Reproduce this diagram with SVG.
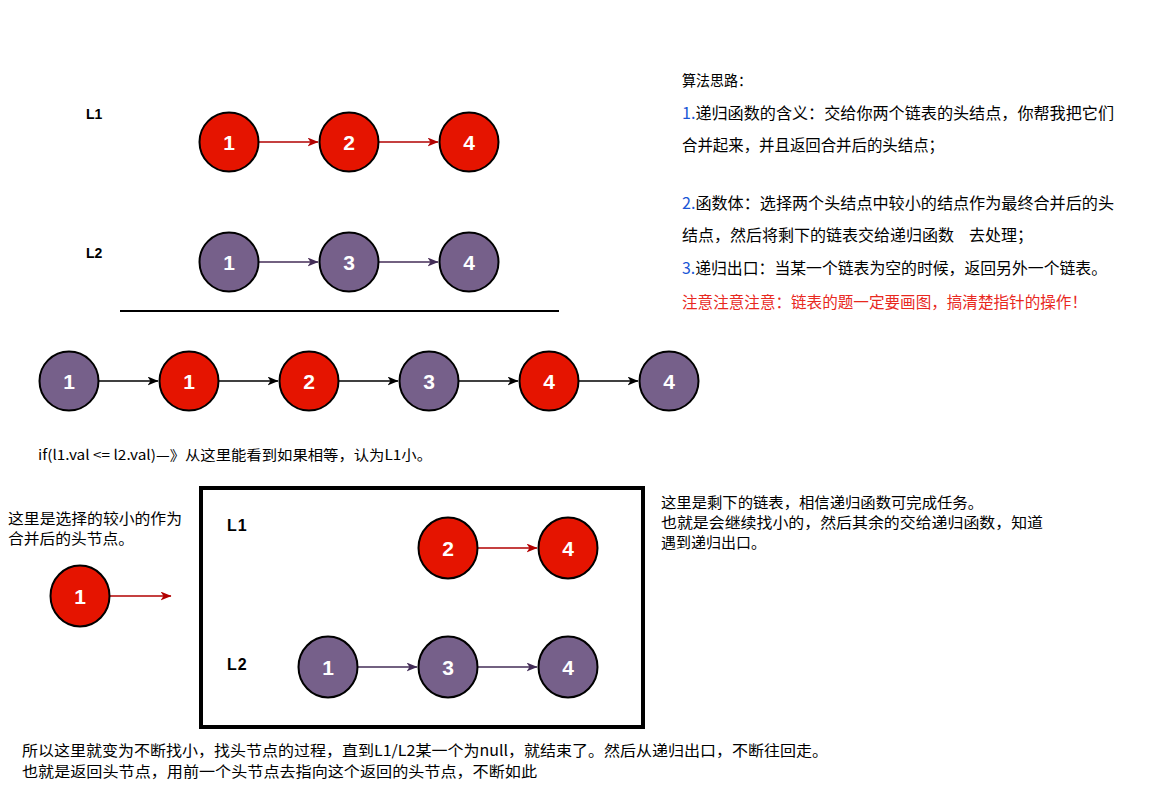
<svg xmlns="http://www.w3.org/2000/svg" width="1162" height="807" viewBox="0 0 1162 807">
<style>
.r{fill:#e51400;stroke:#000;stroke-width:2}
.p{fill:#76608a;stroke:#000;stroke-width:2}
.n{font-family:"Liberation Sans",Arial,sans-serif;font-weight:bold;font-size:21px;fill:#fff;text-anchor:middle}
.lb{font-family:"Liberation Sans",Arial,sans-serif;font-weight:bold;font-size:14px;fill:#000}
.lb2{font-family:"Liberation Sans",Arial,sans-serif;font-weight:bold;font-size:16px;letter-spacing:1px;fill:#000}
.t{font-family:"Noto Sans CJK SC","Liberation Sans",sans-serif;font-size:15px;fill:#000}
.t16{font-family:"Noto Sans CJK SC","Liberation Sans",sans-serif;font-size:16px;fill:#000}
.t14{font-family:"Noto Sans CJK SC","Liberation Sans",sans-serif;font-size:14px;fill:#000}
.blue{fill:#1a56d6}
.ar{stroke:#b20000;stroke-width:1.6;fill:none}
.ap{stroke:#432d57;stroke-width:1.6;fill:none}
.ab{stroke:#000;stroke-width:1.6;fill:none}
</style>
<defs>
<marker id="mr" viewBox="0 0 11 9" refX="10.5" refY="4.5" markerWidth="11" markerHeight="9" orient="auto" markerUnits="userSpaceOnUse"><path d="M0,0 L11,4.5 L0,9 L3,4.5 z" fill="#b20000"/></marker>
<marker id="mp" viewBox="0 0 11 9" refX="10.5" refY="4.5" markerWidth="11" markerHeight="9" orient="auto" markerUnits="userSpaceOnUse"><path d="M0,0 L11,4.5 L0,9 L3,4.5 z" fill="#432d57"/></marker>
<marker id="mb" viewBox="0 0 11 9" refX="10.5" refY="4.5" markerWidth="11" markerHeight="9" orient="auto" markerUnits="userSpaceOnUse"><path d="M0,0 L11,4.5 L0,9 L3,4.5 z" fill="#000"/></marker>
</defs>
<rect width="1162" height="807" fill="#fff"/>

<g id="connectors">
<line class="ar" x1="259" y1="142" x2="318" y2="142" marker-end="url(#mr)"/>
<line class="ar" x1="379" y1="142" x2="438" y2="142" marker-end="url(#mr)"/>
<line class="ap" x1="259" y1="262" x2="318" y2="262" marker-end="url(#mp)"/>
<line class="ap" x1="379" y1="262" x2="438" y2="262" marker-end="url(#mp)"/>
<line class="ab" x1="99" y1="381" x2="158" y2="381" marker-end="url(#mb)"/>
<line class="ab" x1="219" y1="381" x2="278" y2="381" marker-end="url(#mb)"/>
<line class="ab" x1="339" y1="381" x2="398" y2="381" marker-end="url(#mb)"/>
<line class="ab" x1="459" y1="381" x2="518" y2="381" marker-end="url(#mb)"/>
<line class="ab" x1="579" y1="381" x2="638" y2="381" marker-end="url(#mb)"/>
<line class="ar" x1="110" y1="596" x2="171" y2="596" marker-end="url(#mr)"/>
<line class="ar" x1="478" y1="548" x2="537" y2="548" marker-end="url(#mr)"/>
<line class="ap" x1="358" y1="667" x2="417" y2="667" marker-end="url(#mp)"/>
<line class="ap" x1="478" y1="667" x2="537" y2="667" marker-end="url(#mp)"/>
</g>

<g id="labels-top">
<text class="lb" x="86" y="119">L1</text>
<text class="lb" x="86" y="258">L2</text>
</g>
<line x1="120" y1="311" x2="559" y2="311" stroke="#000" stroke-width="2"/>

<g id="l1-1"><circle class="r" cx="229" cy="142" r="29.5"/><text class="n" x="229" y="149.5">1</text></g>
<g id="l1-2"><circle class="r" cx="349" cy="142" r="29.5"/><text class="n" x="349" y="149.5">2</text></g>
<g id="l1-4"><circle class="r" cx="469" cy="142" r="29.5"/><text class="n" x="469" y="149.5">4</text></g>
<g id="l2-1"><circle class="p" cx="229" cy="262" r="29.5"/><text class="n" x="229" y="269.5">1</text></g>
<g id="l2-3"><circle class="p" cx="349" cy="262" r="29.5"/><text class="n" x="349" y="269.5">3</text></g>
<g id="l2-4"><circle class="p" cx="469" cy="262" r="29.5"/><text class="n" x="469" y="269.5">4</text></g>

<g id="m-1"><ellipse class="p" cx="69" cy="381" rx="29.5" ry="29.5"/><text class="n" x="69" y="388.5">1</text></g>
<g id="m-2"><ellipse class="r" cx="189" cy="381" rx="29.5" ry="29.5"/><text class="n" x="189" y="388.5">1</text></g>
<g id="m-3"><ellipse class="r" cx="309" cy="381" rx="29.5" ry="29.5"/><text class="n" x="309" y="388.5">2</text></g>
<g id="m-4"><ellipse class="p" cx="429" cy="381" rx="29.5" ry="29.5"/><text class="n" x="429" y="388.5">3</text></g>
<g id="m-5"><ellipse class="r" cx="549" cy="381" rx="29.5" ry="29.5"/><text class="n" x="549" y="388.5">4</text></g>
<g id="m-6"><ellipse class="p" cx="669" cy="381" rx="29.5" ry="29.5"/><text class="n" x="669" y="388.5">4</text></g>

<text class="t14" x="38" y="460" textLength="394" lengthAdjust="spacingAndGlyphs">if(l1.val &lt;= l2.val)—》从这里能看到如果相等，认为L1小。</text>

<g id="algo">
<text class="t" x="682" y="86" textLength="70" lengthAdjust="spacingAndGlyphs">算法思路：</text>
<text class="t16" x="682" y="119" textLength="432" lengthAdjust="spacingAndGlyphs"><tspan class="blue">1.</tspan>递归函数的含义：交给你两个链表的头结点，你帮我把它们</text>
<text class="t16" x="682" y="151" textLength="262" lengthAdjust="spacingAndGlyphs">合并起来，并且返回合并后的头结点；</text>
<text class="t16" x="682" y="209" textLength="432" lengthAdjust="spacingAndGlyphs"><tspan class="blue">2.</tspan>函数体：选择两个头结点中较小的结点作为最终合并后的头</text>
<text class="t16" x="682" y="241" textLength="272" lengthAdjust="spacingAndGlyphs">结点，然后将剩下的链表交给递归函数</text>
<text class="t16" x="969" y="241">去处理；</text>
<text class="t16" x="682" y="274" textLength="425" lengthAdjust="spacingAndGlyphs"><tspan class="blue">3.</tspan>递归出口：当某一个链表为空的时候，返回另外一个链表。</text>
<text class="t16" x="682" y="308" style="fill:#e8281e" textLength="405" lengthAdjust="spacingAndGlyphs">注意注意注意：链表的题一定要画图，搞清楚指针的操作！</text>
</g>

<g id="left-note">
<text class="t" x="8" y="524" textLength="174" lengthAdjust="spacingAndGlyphs">这里是选择的较小的作为</text>
<text class="t" x="8" y="544" textLength="126" lengthAdjust="spacingAndGlyphs">合并后的头节点。</text>
</g>
<g id="b-1"><ellipse class="r" cx="80" cy="596" rx="29.5" ry="30.5"/><text class="n" x="80" y="603.5">1</text></g>

<g id="box">
<rect x="201" y="488" width="442" height="239" fill="none" stroke="#000" stroke-width="4"/>
<text class="lb2" x="227" y="531">L1</text>
<text class="lb2" x="227" y="670">L2</text>
</g>
<g id="b-l1-2"><ellipse class="r" cx="448" cy="548" rx="29.5" ry="30.5"/><text class="n" x="448" y="555.5">2</text></g>
<g id="b-l1-4"><ellipse class="r" cx="568" cy="548" rx="29.5" ry="30.5"/><text class="n" x="568" y="555.5">4</text></g>
<g id="b-l2-1"><ellipse class="p" cx="328" cy="667" rx="29.5" ry="30.5"/><text class="n" x="328" y="674.5">1</text></g>
<g id="b-l2-3"><ellipse class="p" cx="448" cy="667" rx="29.5" ry="30.5"/><text class="n" x="448" y="674.5">3</text></g>
<g id="b-l2-4"><ellipse class="p" cx="568" cy="667" rx="29.5" ry="30.5"/><text class="n" x="568" y="674.5">4</text></g>

<g id="right-note">
<text class="t" x="661" y="508" textLength="322" lengthAdjust="spacingAndGlyphs">这里是剩下的链表，相信递归函数可完成任务。</text>
<text class="t" x="661" y="528" textLength="382" lengthAdjust="spacingAndGlyphs">也就是会继续找小的，然后其余的交给递归函数，知道</text>
<text class="t" x="661" y="548">遇到递归出口。</text>
</g>

<g id="bottom-note">
<text class="t" x="22" y="756" textLength="806" lengthAdjust="spacingAndGlyphs">所以这里就变为不断找小，找头节点的过程，直到L1/L2某一个为null，就结束了。然后从递归出口，不断往回走。</text>
<text class="t" x="22" y="777" textLength="515" lengthAdjust="spacingAndGlyphs">也就是返回头节点，用前一个头节点去指向这个返回的头节点，不断如此</text>
</g>
</svg>
